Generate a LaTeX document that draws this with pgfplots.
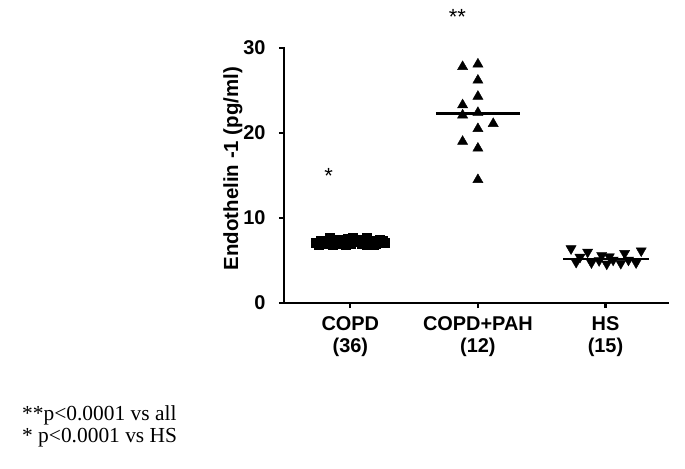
\documentclass[border=0pt]{standalone}
\usepackage{fontspec}
\setmainfont{Liberation Serif}
\newfontfamily\arial{Liberation Sans}
\usepackage{pgfplots}
\pgfplotsset{compat=1.18}
\begin{document}
\begin{tikzpicture}
\begin{axis}[
  at={(0,0)}, anchor=south west,
  scale only axis, width=384bp, height=255bp,
  xmin=-0.52, xmax=2.49, ymin=0, ymax=30,
  axis lines*=left,
  axis line style={line width=2.4pt, line cap=rect},
  clip=false,
  xtick={0,1,2},
  xticklabels={COPD\\(36), COPD+PAH\\(12), HS\\(15)},
  ytick={0,10,20,30},
  tick align=outside,
  major tick length=5bp,
  tick style={line width=2.2pt, black},
  /pgf/number format/assume math mode=true,
  xticklabel style={align=center, font=\arial\bfseries\fontsize{20}{22}\selectfont, yshift=-5bp},
  yticklabel style={font=\arial\bfseries\fontsize{20}{22}\selectfont, xshift=-10bp},
  ylabel={Endothelin -1 (pg/ml)},
  ylabel style={at={(axis description cs:-0.133,0.527)}, anchor=center, rotate=0, font=\arial\bfseries\fontsize{20.5}{23}\selectfont},
]
% COPD (squares)
\addplot[only marks, mark=square*, mark size=4.5pt, black] coordinates {
(-0.27,7.1)(-0.23,7.3)(-0.20,7.0)(-0.16,7.7)(-0.13,7.2)(-0.09,7.0)(-0.05,7.4)(-0.02,7.1)
(0.02,7.7)(0.05,7.2)(0.09,7.0)(0.13,7.7)(0.16,7.3)(0.20,7.0)(0.23,7.5)(0.27,7.1)
(-0.25,6.9)(-0.18,7.2)(-0.11,7.5)(-0.04,6.9)(0.04,7.3)(0.11,7.1)(0.18,6.9)(0.25,7.3)
(-0.22,7.1)(-0.14,6.9)(-0.07,7.3)(0.00,7.0)(0.07,7.5)(0.14,7.0)(0.22,7.2)
(-0.16,7.1)(-0.02,7.6)(0.09,7.4)(0.13,6.9)(-0.24,7.0)
};
% COPD+PAH (triangles)
\addplot[only marks, mark=triangle*, mark size=5.9pt, black] coordinates {
(0.88,27.8)(1.00,28.1)(1.00,26.2)(1.00,24.3)(0.88,23.3)(0.88,22.1)
(1.00,22.4)(1.12,21.1)(1.00,20.5)(0.88,19.0)(1.00,18.2)(1.00,14.5)
};
% HS (inverted triangles)
\addplot[only marks, mark=triangle*, mark size=5.9pt, mark options={rotate=180}, black] coordinates {
(1.73,6.4)(1.86,6.0)(1.80,5.4)(1.97,5.6)(2.15,5.85)(2.28,6.15)(1.77,4.8)(1.89,4.75)
(1.95,5.0)(2.01,4.6)(2.06,5.06)(2.12,4.67)(2.18,5.06)(2.24,4.75)(2.03,5.45)
};
% medians
\addplot[black, line width=2.4pt] coordinates {(-0.31,7.2)(0.31,7.2)};
\addplot[black, line width=2.4pt] coordinates {(0.67,22.3)(1.33,22.3)};
\addplot[black, line width=2.4pt] coordinates {(1.67,5.15)(2.34,5.15)};
% significance marks
\node[font=\arial\fontsize{22}{24}\selectfont] at (axis cs:-0.17,14.9) {*};
\node[font=\arial\fontsize{22}{24}\selectfont] at (axis cs:0.84,33.7) {**};
\end{axis}
\path[use as bounding box] (-284bp,-166bp) rectangle (401bp,303bp);
\node[anchor=base west, inner sep=0pt, font=\fontsize{21.5}{24}\selectfont] at (-262bp,-117bp) {**p<0.0001 vs all};
\node[anchor=base west, inner sep=0pt, font=\fontsize{21.5}{24}\selectfont] at (-262bp,-139bp) {* p<0.0001 vs HS};
\end{tikzpicture}
\end{document}
